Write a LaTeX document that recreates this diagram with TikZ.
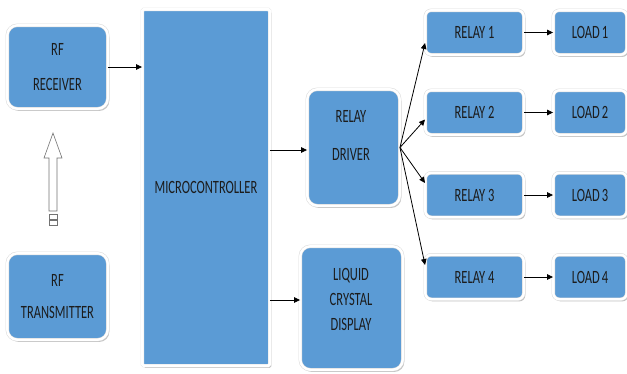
\documentclass[tikz,border=0pt]{standalone}
\usepackage{fontspec}
\setmainfont{Carlito}
\usetikzlibrary{arrows.meta,shadows}
\definecolor{boxblue}{HTML}{5B9BD5}
\definecolor{inktext}{HTML}{1C1C1C}
% block lettering is drawn tall and narrow
\newcommand\tall[1]{\scalebox{1}[1.5]{#1}}

\begin{document}
\begin{tikzpicture}[x=1pt,y=-1pt,
  blk/.style={fill=boxblue, draw=black!14, double=white, double distance=2.4pt, line width=0.5pt,
    rounded corners=10pt, inner sep=0pt,
    font=\fontsize{12.5}{15}\selectfont, text=inktext, align=center,
    drop shadow={shadow xshift=1.6pt, shadow yshift=-2.2pt, fill=black!24, opacity=1}},
  mcu/.style={blk, rounded corners=1.5pt, draw=black!8},
  lbl/.style={font=\fontsize{12.5}{15}\selectfont, text=inktext, inner sep=0pt, align=center},
  link/.style={draw=black, line width=0.8pt, -{Triangle[length=6pt,width=5.5pt]}},
  hollow/.style={draw=black!55, fill=white, line width=0.6pt, line join=miter}
]
\useasboundingbox (0,0) rectangle (627,373);

% left column
\node[blk, minimum width=100.4pt, minimum height=83.4pt] (rx) at (57.5,67)
  {\tall{RF}\\[20pt]\tall{RECEIVER}};
\node[blk, minimum width=100.4pt, minimum height=86.4pt] (tx) at (57.5,296.5)
  {\tall{RF}\\[17pt]\tall{TRANSMITTER}};

% wireless link from transmitter up to receiver
\draw[hollow] (53,133) -- (62,158) -- (57,158) -- (57,211) -- (49,211) -- (49,158) -- (44,158) -- cycle;
\draw[hollow] (49,214) rectangle (57,219);
\draw[hollow] (49,220) rectangle (57,225);

% controller
\node[mcu, minimum width=127.4pt, minimum height=356.4pt] (micro) at (206,187.5)
  {\tall{MICROCONTROLLER}};

% driver and display
\node[blk, minimum width=92.4pt, minimum height=116.4pt] (drv) at (353.5,147.5) {};
\node[lbl] (drvtxt) at (351,135) {\tall{RELAY}\\[23pt]\tall{DRIVER}};
\node[blk, minimum width=102.4pt, minimum height=123.4pt] (lcd) at (351.5,308) {};
\node[lbl] (lcdtxt) at (351,299) {\tall{LIQUID}\\[10pt]\tall{CRYSTAL}\\[10pt]\tall{DISPLAY}};

% relays and loads
\foreach \i/\yy in {1/32.5, 2/112.5, 3/195, 4/277} {
  \node[blk, rounded corners=6pt, minimum width=98.4pt, minimum height=44.4pt] (r\i) at (474.5,\yy)
    {\tall{RELAY\ \i}};
  \node[blk, rounded corners=6pt, minimum width=73.4pt, minimum height=44.4pt] (l\i) at (590,\yy)
    {\tall{LOAD\,\i}};
  \draw[link] (r\i) -- (l\i);
}

% signal flow
\draw[link] (rx) -- (rx -| micro.west);
\draw[link] ([yshift=-2.5pt]drv.west -| micro.east) -- ([yshift=-2.5pt]drv.west);
\draw[link] ([yshift=8pt]lcd.west -| micro.east) -- ([yshift=8pt]lcd.west);
\coordinate (fan) at (drv.east);
\draw[link] (fan) -- ([yshift=-10.5pt]r1.west);
\draw[link] (fan) -- ([yshift=-7pt]r2.west);
\draw[link] (fan) -- ([yshift=12pt]r3.west);
\draw[link] (fan) -- ([yshift=12pt]r4.west);
\end{tikzpicture}
\end{document}
